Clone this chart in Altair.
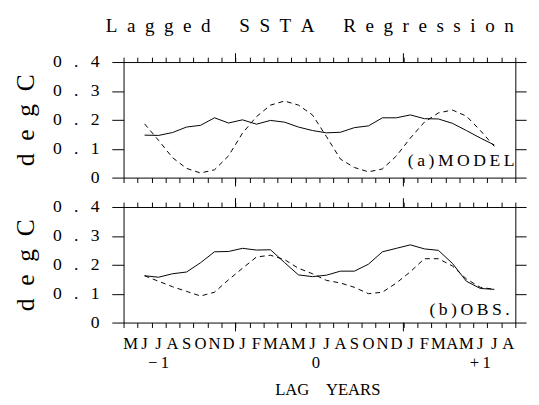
import altair as alt
import pandas as pd

FONT = "Liberation Serif, DejaVu Serif, serif"
EN = "\u2002"
TH = "\u2009"

# month letters of the x axis (index 0 = May of year -1 ... 27 = Aug of year +1)
months = list("MJJASONDJFMAMJJASONDJFMAMJJA")
x_ticks = list(range(29))
major_ticks = [8, 20]
lag_labels = ["\u2212" + TH + "1", "0", "+" + TH + "1"]
lag_pos = [2.5, 13.75, 25.5]
y_ticks = [0, 0.1, 0.2, 0.3, 0.4]

# month index of each value (Jun of year -1 .. Jul of year +1)
data_month = list(range(1, 27))

model_solid = [0.147, 0.146, 0.156, 0.175, 0.181, 0.207, 0.189, 0.200, 0.185, 0.198,
               0.192, 0.175, 0.163, 0.155, 0.157, 0.173, 0.179, 0.207, 0.207, 0.217,
               0.204, 0.203, 0.188, 0.163, 0.137, 0.113]
model_dash = [0.186, 0.129, 0.069, 0.032, 0.016, 0.027, 0.075, 0.154, 0.211, 0.251,
              0.265, 0.251, 0.217, 0.142, 0.064, 0.035, 0.020, 0.030, 0.075, 0.137,
              0.192, 0.224, 0.234, 0.213, 0.163, 0.108]
obs_solid = [0.162, 0.157, 0.169, 0.175, 0.207, 0.245, 0.246, 0.257, 0.251, 0.252,
             0.208, 0.165, 0.159, 0.164, 0.178, 0.178, 0.202, 0.245, 0.257, 0.269,
             0.255, 0.250, 0.205, 0.143, 0.118, 0.115]
obs_dash = [0.162, 0.143, 0.124, 0.108, 0.092, 0.105, 0.148, 0.188, 0.227, 0.233,
            0.218, 0.188, 0.169, 0.146, 0.137, 0.122, 0.100, 0.105, 0.137, 0.176,
            0.221, 0.221, 0.196, 0.151, 0.122, 0.115]

title_text = EN.join(list("Lagged SSTA Regression")).replace(" ", EN)
ylabel = EN.join(list("degC"))
label_a = TH.join(list("(a)MODEL"))
label_b = TH.join(list("(b)OBS."))

W, H = 400, 118

SEP = EN + TH
ylabel_expr = ("datum.value == 0 ? '0' : replace(format(datum.value, '.1f'), '.', '"
               + SEP + "." + SEP + "')")


def make_panel(solid, dash, label, lab_x, lab_y, bottom):
    df = pd.DataFrame({"m": data_month, "solid": solid, "dash": dash})
    base = alt.Chart(df).transform_calculate(xc="datum.m + 0.5")
    xs = alt.Scale(domain=[0, 28], nice=False, zero=False)
    ys = alt.Scale(domain=[0, 0.4], nice=False, zero=False)

    ax_b_kw = dict(orient="bottom", values=x_ticks, tickSize=5, labels=False,
                   domain=False, grid=False)
    if bottom:
        ax_b_kw.update(title="LAG" + "\u2003" + "YEARS", titleFontSize=17,
                       titlePadding=55, titleX=208)
    else:
        ax_b_kw.update(title=None)
    ax_b = alt.Axis(**ax_b_kw)
    ax_t = alt.Axis(orient="top", values=x_ticks, tickSize=5, labels=False,
                    domain=False, grid=False, title=None)
    ax_l = alt.Axis(orient="left", values=y_ticks, tickSize=12, labelPadding=13,
                    labelExpr=ylabel_expr, labelFontSize=18, title=ylabel,
                    titleFontSize=26, titlePadding=14, grid=False, domain=False)
    ax_r = alt.Axis(orient="right", values=y_ticks, tickSize=11, labels=False,
                    domain=False, grid=False, title=None)

    solid_layer = base.mark_line(color="black", strokeWidth=1).encode(
        x=alt.X("xc:Q", scale=xs, axis=ax_b),
        y=alt.Y("solid:Q", scale=ys, axis=ax_l),
    )
    dash_layer = base.mark_line(color="black", strokeWidth=1, strokeDash=[5, 4]).encode(
        x=alt.X("xc:Q", scale=xs, axis=ax_t),
        y=alt.Y("dash:Q", scale=ys, axis=ax_r),
    )
    maj = alt.Chart(pd.DataFrame({"p": major_ticks}))
    top_rule = maj.mark_rule(color="black", strokeWidth=1).encode(
        x=alt.X("p:Q", scale=xs, axis=None), y=alt.value(-9), y2=alt.value(0))
    bot_rule = maj.mark_rule(color="black", strokeWidth=1).encode(
        x=alt.X("p:Q", scale=xs, axis=None), y=alt.value(H), y2=alt.value(H + 9))
    lab = alt.Chart(pd.DataFrame({"x": [lab_x], "y": [lab_y], "t": [label]})).mark_text(
        align="right", baseline="middle", font=FONT, fontSize=18, color="black"
    ).encode(
        x=alt.X("x:Q", scale=xs, axis=None),
        y=alt.Y("y:Q", scale=ys, axis=None),
        text="t:N",
    )
    layers = [solid_layer, dash_layer, top_rule, bot_rule, lab]
    if bottom:
        mdf = pd.DataFrame({"p": [i + 0.5 for i in range(len(months))], "t": months})
        mtext = alt.Chart(mdf).mark_text(
            align="center", baseline="middle", font=FONT, fontSize=17, color="black"
        ).encode(x=alt.X("p:Q", scale=xs, axis=None), y=alt.value(H + 22), text="t:N")
        ldf = pd.DataFrame({"p": lag_pos, "t": lag_labels})
        ltext = alt.Chart(ldf).mark_text(
            align="center", baseline="middle", font=FONT, fontSize=17, color="black"
        ).encode(x=alt.X("p:Q", scale=xs, axis=None), y=alt.value(H + 41), text="t:N")
        layers += [mtext, ltext]
    return alt.layer(*layers).resolve_axis(x="independent", y="independent").properties(
        width=W, height=H)


pa = make_panel(model_solid, model_dash, label_a, 27.95, 0.057, False)
pb = make_panel(obs_solid, obs_dash, label_b, 27.6, 0.042, True)

chart = alt.vconcat(pa, pb, spacing=10).properties(
    title=alt.TitleParams(text=title_text, anchor="start", offset=16.5, dx=95),
    padding=4,
).configure_view(stroke="black", strokeWidth=1).configure_axis(
    labelFont=FONT, titleFont=FONT, tickColor="black", labelColor="black",
    titleColor="black", titleFontWeight="normal", tickWidth=1,
).configure_title(font=FONT, fontSize=19.5, fontWeight="normal", color="black")

chart.save("out.html", embed_options={"renderer": "svg", "actions": False})
